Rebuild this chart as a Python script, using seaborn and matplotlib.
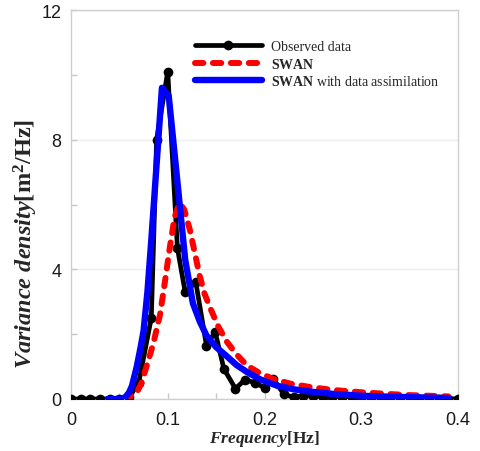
import matplotlib
matplotlib.use("Agg")
import matplotlib.pyplot as plt
import seaborn as sns
import pandas as pd

# ---- data ----
obs_freq = [0.00, 0.01, 0.02, 0.03, 0.04, 0.05, 0.06, 0.07, 0.083, 0.0885, 0.100,
            0.110, 0.118, 0.129, 0.140, 0.149, 0.158, 0.170, 0.180, 0.190, 0.200,
            0.209, 0.220, 0.230, 0.240, 0.250, 0.260, 0.270, 0.280, 0.290, 0.300,
            0.310, 0.320, 0.330, 0.340, 0.350, 0.360, 0.370, 0.380, 0.390, 0.400]
obs_val = [0.0, 0.0, 0.0, 0.0, 0.0, 0.0, 0.05, 0.5, 2.5, 8.0, 10.1,
           4.65, 3.3, 3.6, 1.65, 2.07, 0.93, 0.32, 0.6, 0.5, 0.35,
           0.62, 0.15, 0.05, 0.1, 0.09, 0.07, 0.06, 0.05, 0.05, 0.04,
           0.03, 0.03, 0.02, 0.02, 0.02, 0.01, 0.01, 0.01, 0.01, 0.0]

swan_freq = [0.054, 0.060, 0.068, 0.073, 0.078, 0.085, 0.092, 0.097, 0.102, 0.107,
             0.112, 0.117, 0.123, 0.128, 0.133, 0.138, 0.144, 0.152, 0.161, 0.171,
             0.182, 0.195, 0.209, 0.227, 0.247, 0.270, 0.299, 0.325, 0.350, 0.370, 0.390]
swan_val = [0.0, 0.05, 0.2, 0.5, 1.0, 1.7, 2.6, 3.6, 4.65, 5.6,
            6.05, 5.85, 5.2, 4.5, 3.8, 3.25, 2.8, 2.25, 1.77, 1.38,
            1.03, 0.8, 0.62, 0.47, 0.37, 0.28, 0.21, 0.16, 0.12, 0.10, 0.08]

da_freq = [0.038, 0.050, 0.056, 0.060, 0.063, 0.068, 0.072, 0.075, 0.079, 0.083,
           0.094, 0.101, 0.110, 0.118, 0.126, 0.133, 0.140, 0.150, 0.161, 0.171,
           0.182, 0.196, 0.213, 0.230, 0.247, 0.270, 0.300, 0.330, 0.360, 0.390]
da_val = [0.0, 0.0, 0.05, 0.2, 0.4, 1.0, 1.6, 2.1, 3.3, 4.9,
          9.6, 9.35, 6.7, 4.3, 2.95, 2.4, 1.96, 1.6, 1.32, 1.05,
          0.83, 0.6, 0.41, 0.3, 0.23, 0.16, 0.1, 0.07, 0.05, 0.03]

labels = ["Observed data", r"$\mathbf{SWAN}$", r"$\mathbf{SWAN}$ with data assimilation"]
x_ticks = [0, 0.1, 0.2, 0.3, 0.4]
x_tick_labels = ["0", "0.1", "0.2", "0.3", "0.4"]
y_ticks = [0, 4, 8, 12]

# ---- style ----
sns.set_style("ticks")
plt.rcParams["font.family"] = ["Liberation Sans", "DejaVu Sans"]
plt.rcParams["mathtext.fontset"] = "custom"
plt.rcParams["mathtext.rm"] = "Liberation Serif:bold"
plt.rcParams["mathtext.bf"] = "Liberation Serif:bold"
plt.rcParams["mathtext.it"] = "Liberation Serif:italic:bold"

fig = plt.figure(figsize=(4.81, 4.52), dpi=100)
ax = fig.add_axes([71 / 481, 52 / 452, 387 / 481, 389 / 452])

df_obs = pd.DataFrame({"f": obs_freq, "v": obs_val})
df_swan = pd.DataFrame({"f": swan_freq, "v": swan_val})
df_da = pd.DataFrame({"f": da_freq, "v": da_val})

sns.lineplot(data=df_obs, x="f", y="v", ax=ax, color="black", lw=3.4,
             marker="o", markersize=7, markeredgewidth=0, label=labels[0],
             estimator=None, zorder=3)
sns.lineplot(data=df_swan, x="f", y="v", ax=ax, color="#ff0000", lw=4.3,
             dashes=False, label=labels[1], estimator=None, zorder=4)
sns.lineplot(data=df_da, x="f", y="v", ax=ax, color="#0000ff", lw=4.6,
             label=labels[2], estimator=None, zorder=5, solid_capstyle="round")

dash_pat = (0, (1.4, 1.6))
red_line = ax.lines[1]
red_line.set_linestyle(dash_pat)
red_line.set_dash_capstyle("round")

ax.set_xlim(0, 0.4)
ax.set_ylim(0, 12)
ax.set_xticks(x_ticks)
ax.set_xticklabels(x_tick_labels)
ax.set_yticks(y_ticks)
ax.set_xticks([0.05, 0.15, 0.25, 0.35], minor=True)
ax.set_yticks([2, 6, 10], minor=True)
ax.tick_params(axis="both", which="both", direction="in", colors="#c8c8c8",
               labelcolor="#1a1a1a", labelsize=13, length=4, width=1)
ax.tick_params(axis="y", pad=7)
ax.tick_params(axis="x", pad=9)

for s in ax.spines.values():
    s.set_color("#cfcfcf")
    s.set_linewidth(1)
ax.grid(axis="y", which="major", color="#eeeeee", lw=1)
ax.set_axisbelow(True)

ax.set_xlabel(r"$\mathit{Frequency}\mathrm{[Hz]}$", fontsize=12.5)
ax.set_ylabel(r"$\mathit{Variance\ density}\mathrm{[m^{2}/Hz]}$", fontsize=17.5)
ax.xaxis.set_label_coords(0.5, -0.075)
ax.yaxis.set_label_coords(-0.08, 0.40)

leg = ax.legend(loc="upper left", bbox_to_anchor=(0.32, 0.922), frameon=False,
                borderpad=0, borderaxespad=0, handlelength=4.8, handletextpad=0.7,
                labelspacing=0.25, numpoints=1,
                prop={"family": "Liberation Serif", "size": 10})
for h in leg.get_lines():
    h.set_solid_capstyle("round")
leg.get_lines()[1].set_linestyle(dash_pat)
leg.get_lines()[1].set_dash_capstyle("round")

fig.savefig("out.png", dpi=100)
